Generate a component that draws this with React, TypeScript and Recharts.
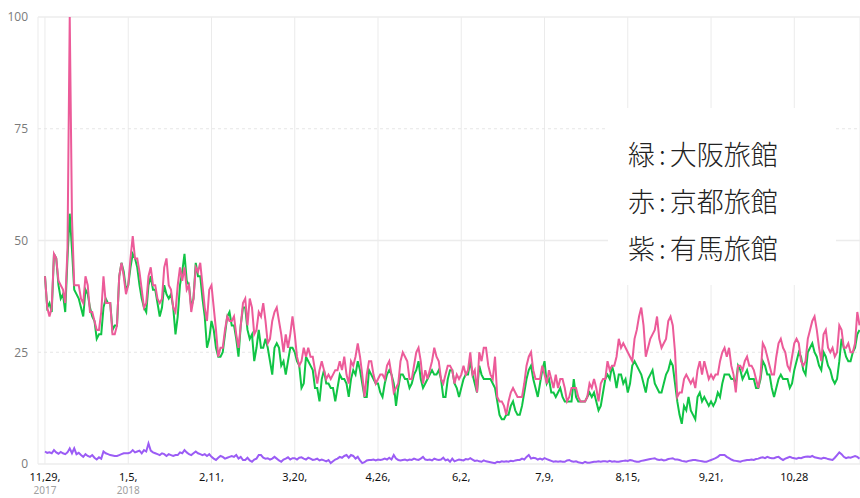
import React from 'react';
import { LineChart, Line, XAxis, YAxis, CartesianGrid, ReferenceLine } from 'recharts';

// daily values, 2017-11-29 .. 2018-11-26
const kyoto = [
  42, 35, 33, 35, 47, 46, 41, 40, 39, 36,
  48, 100, 55, 40, 40, 40, 37, 36, 42, 40,
  34, 34, 32, 30, 30, 34, 42, 36, 36, 36,
  29, 29, 31, 42, 45, 42, 38, 40, 46, 51,
  46, 46, 43, 39, 35, 36, 42, 44, 40, 40,
  37, 36, 37, 44, 46, 40, 39, 35, 34, 40,
  44, 41, 44, 39, 40, 34, 37, 44, 43, 45,
  40, 35, 32, 39, 40, 35, 30, 24, 26, 26,
  30, 33, 32, 32, 33, 29, 26, 31, 36, 37,
  31, 37, 35, 29, 30, 34, 33, 36, 32, 27,
  28, 32, 34, 35, 32, 29, 25, 29, 26, 29,
  33, 29, 24, 22, 23, 26, 24, 26, 24, 24,
  21, 18, 21, 23, 21, 19, 20, 19, 20, 21,
  21, 23, 21, 24, 20, 18, 23, 22, 24, 27,
  24, 20, 15, 20, 23, 23, 20, 18, 19, 20,
  20, 19, 22, 23, 20, 16, 17, 18, 23, 25,
  24, 23, 19, 19, 22, 25, 26, 23, 18, 21,
  19, 21, 23, 26, 24, 23, 19, 18, 20, 22,
  22, 21, 18, 20, 19, 20, 22, 20, 21, 25,
  20, 21, 16, 25, 23, 26, 26, 22, 20, 19,
  24, 15, 14, 14, 13, 11, 14, 16, 17, 16,
  15, 15, 15, 18, 22, 24, 25, 21, 19, 19,
  19, 22, 20, 18, 21, 19, 17, 20, 17, 19,
  19, 17, 14, 15, 17, 17, 17, 15, 14, 14,
  14, 15, 18, 17, 19, 17, 14, 18, 19, 19,
  23, 21, 22, 22, 24, 28, 26, 27, 26, 25,
  24, 23, 28, 30, 33, 35, 31, 24, 26, 28,
  29, 30, 33, 28, 26, 27, 28, 32, 33, 31,
  25, 15, 16, 16, 19, 20, 19, 18, 19, 17,
  21, 23, 20, 23, 21, 19, 20, 19, 20, 20,
  23, 25, 26, 24, 26, 22, 20, 16, 22, 22,
  21, 23, 24, 22, 22, 21, 19, 17, 20, 27,
  26, 24, 22, 20, 20, 24, 27, 28, 26, 25,
  22, 21, 24, 27, 28, 27, 23, 22, 23, 28,
  30, 32, 33, 30, 26, 23, 29, 30, 26, 25,
  26, 24, 25, 31, 30, 26, 26, 27, 25, 25,
  27, 34, 31,
];

const osaka = [
  42, 35, 36, 34, 47, 46, 40, 37, 38, 34,
  46, 56, 48, 39, 38, 37, 35, 33, 39, 38,
  35, 33, 32, 28, 29, 29, 35, 37, 36, 36,
  30, 31, 31, 42, 45, 43, 39, 40, 44, 47,
  46, 44, 40, 37, 35, 34, 40, 42, 39, 39,
  36, 33, 35, 40, 38, 37, 38, 35, 29, 33,
  40, 43, 47, 41, 40, 35, 37, 45, 42, 42,
  37, 33, 26, 28, 32, 30, 26, 24, 24, 25,
  29, 33, 34, 31, 31, 28, 24, 31, 35, 35,
  30, 28, 29, 23, 26, 30, 26, 26, 28, 26,
  23, 20, 26, 27, 26, 22, 23, 20, 23, 26,
  26, 25, 23, 22, 17, 18, 24, 23, 22, 21,
  17, 17, 14, 19, 21, 18, 18, 17, 17, 14,
  17, 20, 19, 19, 18, 15, 19, 21, 20, 23,
  21, 18, 15, 15, 21, 20, 19, 18, 18, 16,
  15, 18, 20, 21, 20, 18, 13, 17, 20, 20,
  19, 19, 17, 18, 20, 21, 23, 19, 17, 18,
  19, 20, 21, 20, 20, 21, 19, 15, 15, 19,
  21, 21, 18, 17, 15, 17, 19, 20, 20, 23,
  20, 18, 16, 22, 20, 19, 19, 19, 19, 18,
  17, 14, 11, 10, 10, 11, 11, 13, 14, 12,
  11, 11, 13, 16, 19, 21, 22, 19, 17, 15,
  18, 21, 23, 18, 19, 16, 16, 15, 16, 17,
  15, 14, 14, 14, 14, 19, 15, 14, 14, 14,
  14, 15, 16, 15, 16, 14, 12, 13, 16, 19,
  20, 19, 22, 20, 17, 20, 20, 18, 19, 16,
  18, 22, 23, 22, 21, 20, 18, 16, 19, 20,
  21, 18, 17, 16, 16, 18, 20, 21, 23, 22,
  18, 14, 11, 9, 13, 12, 15, 12, 11, 10,
  15, 16, 14, 15, 14, 13, 14, 13, 14, 16,
  15, 18, 20, 20, 20, 19, 19, 18, 22, 21,
  19, 20, 21, 19, 19, 19, 17, 17, 19, 23,
  22, 20, 20, 17, 15, 17, 19, 20, 19, 19,
  19, 17, 18, 21, 23, 25, 24, 21, 20, 25,
  26, 27, 25, 24, 22, 21, 25, 24, 22, 21,
  19, 18, 19, 23, 28, 26, 24, 23, 23, 25,
  26, 29, 30,
];

const arima = [
  2.8, 2.5, 2.6, 2.4, 3.1, 2.6, 2.3, 2.7, 2.4, 2.2, 2.6,
  3.5, 2.4, 3.5, 2.2, 2.5, 2.0, 1.6, 2.2, 1.8, 1.6,
  2.0, 1.4, 1.0, 1.5, 1.2, 2.8, 2.4, 2.2, 2.0, 1.9,
  1.8, 1.8, 2.0, 2.2, 2.4, 2.4, 2.4, 2.6, 3.1, 2.6,
  2.8, 3.0, 2.4, 3.1, 2.8, 4.6, 3.0, 2.6, 2.4, 2.2,
  2.0, 2.4, 2.2, 1.8, 2.2, 2.0, 1.8, 2.0, 2.0, 2.6,
  2.4, 3.1, 2.6, 2.2, 2.0, 2.4, 2.8, 2.4, 2.2, 2.0,
  2.2, 1.8, 2.2, 1.6, 1.2, 0.9, 1.4, 1.8, 1.6, 1.2,
  1.4, 1.6, 1.8, 1.6, 2.0, 1.2, 1.6, 0.9, 0.9, 1.4,
  0.8, 0.5, 1.0, 1.2, 2.0, 2.0, 1.4, 1.2, 1.3, 1.0,
  1.2, 1.6, 1.2, 0.8, 0.5, 1.0, 1.2, 1.5, 1.0, 1.3,
  1.3, 1.0, 1.4, 1.5, 1.2, 1.0, 1.4, 1.2, 0.9, 1.0,
  1.2, 0.8, 1.0, 0.8, 0.6, 0.9, 0.2, 0.6, 1.0, 1.2,
  1.6, 1.4, 1.8, 2.0, 1.4, 2.0, 1.8, 1.2, 1.6, 0.8,
  0.2, 0.4, 0.8, 0.9, 0.9, 1.0, 0.8, 1.0, 0.9, 1.0,
  1.2, 1.0, 1.4, 1.0, 2.0, 1.2, 0.9, 0.8, 0.9, 1.0,
  0.8, 1.0, 0.9, 1.2, 1.0, 0.9, 1.2, 1.6, 1.0, 0.9,
  1.0, 0.8, 1.2, 1.0, 0.9, 1.0, 1.4, 0.8, 1.0, 0.5,
  1.2, 0.6, 0.8, 1.0, 0.9, 0.8, 1.1, 1.0, 1.3, 1.0,
  0.7, 0.8, 0.6, 0.5, 0.8, 0.6, 0.5, 0.4, 0.3, 0.2,
  0.5, 0.4, 0.6, 0.5, 0.6, 0.5, 0.7, 0.6, 0.8, 0.9,
  0.9, 1.2, 1.0, 1.6, 2.0, 1.2, 1.4, 1.3, 1.0, 1.2,
  1.0, 1.3, 1.1, 0.9, 0.7, 0.5, 0.6, 0.5, 0.6, 0.5,
  0.5, 0.8, 0.9, 0.6, 0.5, 0.6, 0.4, 0.3, 0.2, 0.5,
  0.3, 0.3, 0.4, 0.5, 0.5, 0.6, 0.5, 0.6, 0.6, 0.5,
  0.7, 0.5, 0.6, 0.5, 0.5, 0.6, 0.7, 0.8, 0.7, 0.9,
  0.8, 0.6, 0.5, 0.5, 0.7, 0.8, 0.9, 1.0, 1.1, 1.2,
  1.3, 1.0, 0.9, 1.0, 0.8, 0.9, 1.1, 1.2, 1.3, 1.0,
  1.0, 0.9, 0.7, 0.6, 0.5, 0.7, 0.8, 0.9, 0.9, 0.8,
  0.7, 0.6, 0.5, 0.5, 0.7, 0.9, 1.1, 1.3, 1.6, 2.0,
  2.0, 2.0, 1.6, 1.3, 1.0, 0.8, 0.7, 0.6, 0.5, 0.7,
  0.8, 0.9, 0.9, 1.0, 0.9, 1.1, 1.2, 1.4, 1.5, 1.3,
  1.6, 1.4, 1.3, 1.3, 1.5, 1.6, 1.2, 0.9, 1.2, 1.4,
  1.6, 1.4, 1.3, 1.2, 1.4, 1.3, 1.5, 1.6, 1.7, 1.6,
  1.8, 1.5, 1.4, 1.3, 1.2, 1.4, 1.3, 1.1, 1.0, 0.9,
  1.4, 2.0, 2.6, 2.2, 1.6, 1.3, 1.5, 1.4, 1.6, 1.8, 1.6, 1.2,
];

const tickDays = [0, 37, 74, 111, 148, 185, 222, 259, 296, 333];
const tickLabels = ['11,29,', '1,5,', '2,11,', '3,20,', '4,26,', '6,2,', '7,9,', '8,15,', '9,21,', '10,28'];
const tickYears: Record<number, string> = { 0: '2017', 37: '2018' };
const yTicks = [0, 25, 50, 75, 100];
const legendColors = ['緑', '赤', '紫'];
const legendNames = ['大阪旅館', '京都旅館', '有馬旅館'];

const data = osaka.map((v, i) => ({ d: i, osaka: v, kyoto: kyoto[i], arima: arima[i] }));

function DateTick({ x, y, payload }: any) {
  const idx = tickDays.indexOf(payload.value);
  const year = tickYears[payload.value];
  return (
    <g>
      <text x={x} y={y + 9} textAnchor="middle" fontSize={11} fill="#111" fontFamily="'Noto Sans', sans-serif">
        {tickLabels[idx]}
      </text>
      {year && (
        <text x={x} y={y + 22} textAnchor="middle" fontSize={10} fill="#a0a0a0" fontFamily="'Noto Sans', sans-serif">
          {year}
        </text>
      )}
    </g>
  );
}

export default function App() {
  return (
    <div style={{ position: 'absolute', left: 0, top: 0, width: 860, height: 498, background: '#fff' }}>
      <LineChart width={860} height={498} data={data} margin={{ top: 17, right: 0, left: 0, bottom: 4 }}>
        <CartesianGrid horizontal={false} stroke="#ebebeb" />
        <ReferenceLine y={100} stroke="#ececec" strokeWidth={1.5} />
        <ReferenceLine y={75} stroke="#e6e6e6" strokeDasharray="3 3" />
        <ReferenceLine y={50} stroke="#ececec" strokeWidth={1.5} />
        <ReferenceLine y={25} stroke="#e6e6e6" strokeDasharray="3 3" />
        <ReferenceLine y={0} stroke="#ececec" strokeWidth={1.5} />
        <XAxis
          dataKey="d"
          type="number"
          domain={[-3.1, 362.2]}
          ticks={tickDays}
          axisLine={false}
          tickLine={false}
          interval={0}
          height={30}
          allowDataOverflow
          tick={<DateTick />}
        />
        <YAxis
          domain={[0, 100]}
          ticks={yTicks}
          axisLine={false}
          tickLine={false}
          width={38}
          tickMargin={4}
          tick={{ fill: '#7a7a7a', fontSize: 12, fontFamily: "'Open Sans', sans-serif" }}
        />
        <Line type="linear" dataKey="arima" stroke="#9b5cf5" strokeWidth={2} dot={false} isAnimationActive={false} />
        <Line type="linear" dataKey="osaka" stroke="#10c445" strokeWidth={2} dot={false} isAnimationActive={false} />
        <Line type="linear" dataKey="kyoto" stroke="#ec5b99" strokeWidth={2} dot={false} isAnimationActive={false} />
      </LineChart>
      <div style={{ position: 'absolute', left: 608, top: 108, width: 228, height: 177, background: '#fff' }} />
      <div
        style={{
          position: 'absolute',
          left: 628,
          top: 130,
          fontFamily: "'Noto Sans CJK JP', sans-serif",
          fontWeight: 300,
          fontSize: 27,
          lineHeight: '47px',
          color: '#222',
          whiteSpace: 'nowrap',
        }}
      >
        {legendNames.map((t, i) => (
          <div key={t}>
            {legendColors[i]}
            <span style={{ margin: '0 4px' }}>:</span>
            {t}
          </div>
        ))}
      </div>
    </div>
  );
}
